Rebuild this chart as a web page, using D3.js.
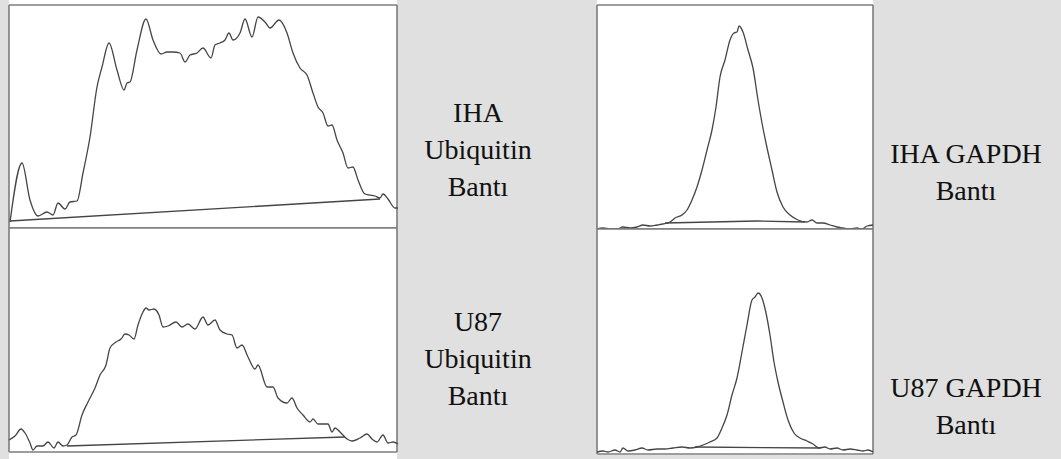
<!DOCTYPE html>
<html>
<head>
<meta charset="utf-8">
<script src="https://cdn.jsdelivr.net/npm/d3@7"></script>
<style>
  html, body { margin: 0; padding: 0; background: #e0e0e0; }
  svg { display: block; }
</style>
</head>
<body>
<svg id="chart" width="1061" height="459"></svg>
<script>
// Densitometry profiles: position along the lane (px) vs. band intensity.

// IHA Ubiquitin lane
const ihaUbiPos = [1, 13, 21, 29, 38, 44, 49, 56, 61, 68, 74, 81, 88, 93, 100, 108, 115, 118, 121, 128, 137, 144, 152, 158, 164, 171, 176, 181, 188, 194, 202, 206, 211, 216, 220, 224, 231, 236, 243, 249, 256, 261, 270, 278, 284, 291, 298, 304, 309, 314, 319, 323, 328, 334, 339, 344, 349, 356, 366, 371, 374, 379, 386, 389];
const ihaUbiInt = [6, 65, 28, 12, 16, 13, 25, 19, 26, 27, 55, 91, 141, 161, 185, 158, 138, 145, 146, 178, 209, 188, 174, 176, 176, 175, 166, 173, 175, 180, 170, 183, 185, 188, 195, 188, 195, 209, 191, 211, 206, 200, 208, 195, 175, 160, 153, 135, 121, 115, 102, 103, 88, 75, 60, 61, 48, 34, 32, 30, 34, 29, 20, 20];
const ihaUbiBasePos = [1, 371];
const ihaUbiBaseInt = [7, 29];

// U87 Ubiquitin lane
const u87UbiPos = [0, 6, 12, 16, 21, 24, 28, 34, 39, 45, 49, 54, 58, 63, 67, 73, 79, 86, 91, 97, 101, 107, 112, 116, 120, 125, 129, 134, 137, 140, 145, 150, 154, 159, 167, 173, 179, 186, 194, 199, 206, 211, 218, 223, 228, 233, 239, 246, 249, 258, 264, 269, 278, 283, 288, 294, 301, 304, 309, 319, 323, 326, 331, 338, 343, 351, 358, 363, 368, 374, 379, 384, 389];
const u87UbiInt = [12, 16, 23, 19, 9, 2, 6, 6, 10, 4, 10, 6, 7, 15, 17, 37, 50, 64, 77, 87, 104, 110, 113, 118, 117, 113, 127, 140, 144, 142, 143, 137, 125, 126, 130, 125, 128, 123, 135, 127, 132, 122, 118, 117, 104, 107, 95, 83, 87, 65, 65, 54, 49, 54, 44, 37, 30, 33, 28, 28, 20, 24, 20, 13, 11, 14, 18, 13, 10, 17, 9, 10, 8];
const u87UbiBasePos = [58, 336];
const u87UbiBaseInt = [6, 15];

// IHA GAPDH lane
const ihaGapdhPos = [0, 6, 13, 20, 26, 33, 40, 46, 53, 60, 66, 73, 78, 85, 90, 95, 100, 105, 110, 115, 119, 123, 128, 133, 137, 140, 142, 146, 151, 156, 161, 165, 169, 175, 180, 186, 193, 201, 210, 215, 220, 226, 233, 240, 246, 253, 260, 265, 270, 276];
const ihaGapdhInt = [0, 1, 0, 0, 2, 1, 2, 4, 3, 4, 5, 7, 11, 14, 19, 29, 42, 59, 79, 99, 122, 152, 169, 189, 196, 197, 203, 197, 179, 161, 129, 106, 86, 59, 37, 22, 14, 9, 7, 9, 6, 6, 4, 2, 1, 0, 1, 0, 3, 4];
const ihaGapdhBasePos = [68, 160, 208];
const ihaGapdhBaseInt = [6, 8, 7];

// U87 GAPDH lane
const u87GapdhPos = [0, 6, 11, 18, 23, 26, 31, 38, 45, 51, 60, 68, 76, 85, 93, 100, 106, 113, 120, 125, 130, 135, 140, 145, 150, 155, 158, 161, 165, 169, 173, 177, 181, 186, 191, 197, 203, 210, 216, 222, 228, 233, 240, 246, 253, 260, 266, 271, 276];
const u87GapdhInt = [2, 3, 2, 4, 2, 6, 3, 4, 6, 4, 5, 5, 6, 7, 6, 7, 9, 12, 16, 26, 39, 59, 76, 102, 129, 154, 157, 161, 156, 141, 119, 92, 72, 52, 34, 21, 16, 13, 10, 6, 7, 5, 6, 4, 5, 4, 3, 4, 2];
const u87GapdhBasePos = [98, 223];
const u87GapdhBaseInt = [7, 6];

// Captions
const ihaUbiLabel = ["IHA", "Ubiquitin", "Bantı"];
const u87UbiLabel = ["U87", "Ubiquitin", "Bantı"];
const ihaGapdhLabel = ["IHA GAPDH", "Bantı"];
const u87GapdhLabel = ["U87 GAPDH", "Bantı"];

const svg = d3.select("#chart");

// Panel layout
const panels = [
  { left: 9, right: 397, top: 5, bottom: 228, fillTop: 0, fillBottom: 228, xMax: 388, yMax: 223,
    pos: ihaUbiPos, val: ihaUbiInt, bPos: ihaUbiBasePos, bVal: ihaUbiBaseInt,
    label: ihaUbiLabel, lx: 478, ly: 122 },
  { left: 9, right: 397, top: 228, bottom: 452, fillTop: 228, fillBottom: 459, xMax: 388, yMax: 224,
    pos: u87UbiPos, val: u87UbiInt, bPos: u87UbiBasePos, bVal: u87UbiBaseInt,
    label: u87UbiLabel, lx: 478, ly: 331 },
  { left: 597, right: 873, top: 5, bottom: 229, fillTop: 0, fillBottom: 229, xMax: 276, yMax: 224,
    pos: ihaGapdhPos, val: ihaGapdhInt, bPos: ihaGapdhBasePos, bVal: ihaGapdhBaseInt,
    label: ihaGapdhLabel, lx: 966, ly: 163 },
  { left: 597, right: 873, top: 229, bottom: 454, fillTop: 229, fillBottom: 455, xMax: 276, yMax: 225,
    pos: u87GapdhPos, val: u87GapdhInt, bPos: u87GapdhBasePos, bVal: u87GapdhBaseInt,
    label: u87GapdhLabel, lx: 966, ly: 397 }
];

const frameColor = "#7c7c7c";
const traceColor = "#454545";

panels.forEach(p => {
  const g = svg.append("g");
  const x = d3.scaleLinear().domain([0, p.xMax]).range([p.left, p.right]);
  const y = d3.scaleLinear().domain([0, p.yMax]).range([p.bottom, p.top]);

  // white plotting field
  g.append("rect")
    .attr("x", p.left).attr("y", p.fillTop)
    .attr("width", p.right - p.left).attr("height", p.fillBottom - p.fillTop)
    .attr("fill", "#ffffff");

  // frame
  const frame = [
    [p.left, p.top, p.right, p.top],
    [p.left, p.bottom, p.right, p.bottom],
    [p.left, p.top, p.left, p.bottom],
    [p.right, p.top, p.right, p.bottom]
  ];
  g.selectAll("line.frame").data(frame).join("line")
    .attr("class", "frame")
    .attr("x1", d => d[0]).attr("y1", d => d[1])
    .attr("x2", d => d[2]).attr("y2", d => d[3])
    .attr("stroke", frameColor).attr("stroke-width", 1.6);

  const baseLine = d3.line().x(d => x(d[0])).y(d => y(d[1]));
  const trace = d3.line().x(d => x(d[0])).y(d => y(d[1])).curve(d3.curveMonotoneX);

  // baseline under the peak
  g.append("path")
    .datum(d3.zip(p.bPos, p.bVal))
    .attr("d", baseLine)
    .attr("fill", "none").attr("stroke", traceColor).attr("stroke-width", 1.3);

  // intensity profile
  g.append("path")
    .datum(d3.zip(p.pos, p.val))
    .attr("d", trace)
    .attr("fill", "none").attr("stroke", traceColor).attr("stroke-width", 1.3)
    .attr("stroke-linejoin", "round");

  // caption
  const t = svg.append("text")
    .attr("x", p.lx).attr("y", p.ly)
    .attr("text-anchor", "middle")
    .attr("font-family", "'Liberation Serif', 'Times New Roman', serif")
    .attr("font-size", 28)
    .attr("fill", "#111");
  t.selectAll("tspan").data(p.label).join("tspan")
    .attr("x", p.lx)
    .attr("dy", (d, i) => i === 0 ? 0 : 37)
    .text(d => d);
});
</script>
</body>
</html>
